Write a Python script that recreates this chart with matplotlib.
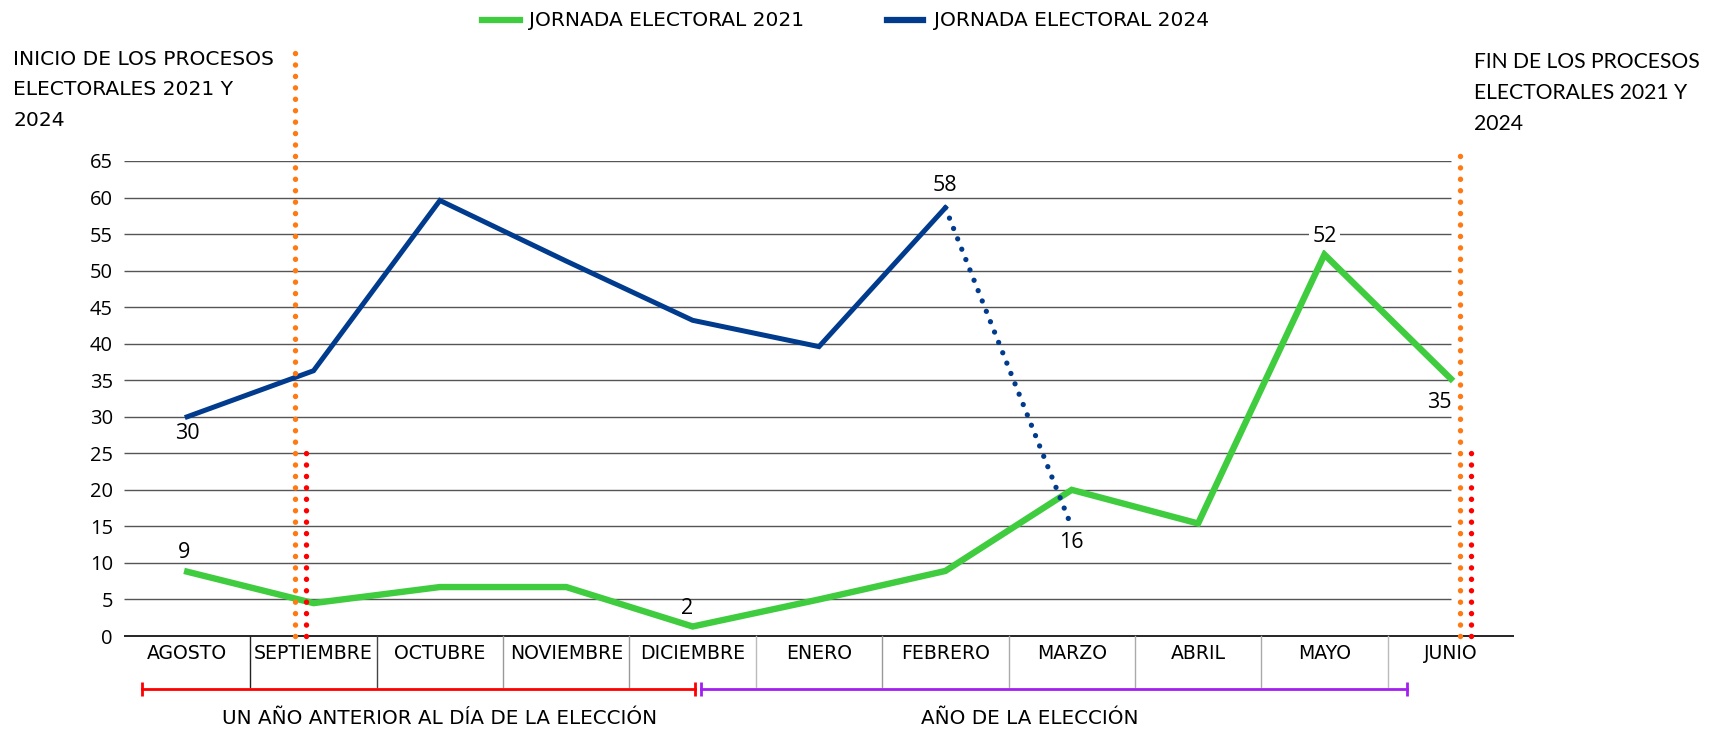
import matplotlib
matplotlib.use("Agg")
import matplotlib.pyplot as plt
import matplotlib.transforms as mtransforms

# months shown on the x axis
meses = ["AGOSTO", "SEPTIEMBRE", "OCTUBRE", "NOVIEMBRE", "DICIEMBRE", "ENERO",
         "FEBRERO", "MARZO", "ABRIL", "MAYO", "JUNIO"]

# Jornada electoral 2021 (green)
serie_2021 = [8.8, 4.5, 6.7, 6.7, 1.3, 5.0, 8.9, 20.0, 15.4, 52.2, 35.2]
# Jornada electoral 2024 (blue), solid up to febrero, dotted to marzo
serie_2024 = [30.0, 36.3, 59.6, 51.3, 43.2, 39.6, 58.6, 14.9]

# data labels: month index -> text
etiquetas_2021 = {0: "9", 4: "2", 9: "52", 10: "35"}
etiquetas_2024 = {0: "30", 6: "58", 7: "16"}

yticks = list(range(0, 70, 5))

VERDE = "#3fcc3f"
AZUL = "#003b8e"
NARANJA = "#ff7a12"
ROJO = "#ff0000"
MORADO = "#a31ff0"

plt.rcParams["font.family"] = ["Liberation Sans Narrow", "DejaVu Sans"]
NUM_FONT = ["Open Sans", "DejaVu Sans"]

fig = plt.figure(figsize=(17.17, 7.29), dpi=100)
ax = fig.add_axes([124 / 1717, 93 / 729, 1390 / 1717, 475 / 729])

x = list(range(len(meses)))
ax.set_xlim(-0.5, 10.5)
ax.set_ylim(0, 65)

# gridlines
ax.hlines(yticks[1:], -0.5, 10.0, color="#555555", lw=1, zorder=1)
ax.hlines(0, -0.5, 10.5, color="black", lw=1.2, zorder=1, clip_on=False)

# series
ax.plot(x, serie_2021, color=VERDE, lw=4.6, solid_joinstyle="miter", zorder=3)
ax.plot(x[:7], serie_2024[:7], color=AZUL, lw=3.6, solid_joinstyle="miter", zorder=3)
ax.plot(x[6:8], serie_2024[6:8], color=AZUL, lw=3.8, ls=(0, (0.01, 2.1)),
        dash_capstyle="round", zorder=3)

# vertical dotted markers for start/end of processes
punteado = dict(lw=3.9, ls=(0, (0.01, 2.1)), dash_capstyle="round",
                clip_on=False, zorder=4)
ax.plot([0.85, 0.85], [0, 80], color=NARANJA, **punteado)
ax.plot([0.94, 0.94], [0, 26], color=ROJO, **punteado)
ax.plot([10.07, 10.07], [0, 66.3], color=NARANJA, **punteado)
ax.plot([10.16, 10.16], [0, 26], color=ROJO, **punteado)

# data labels
offsets_2021 = {0: (-2, 14), 4: (-4, 13), 9: (0, 13), 10: (-8, -17)}
for i, txt in etiquetas_2021.items():
    ax.annotate(txt, (x[i], serie_2021[i]), xytext=offsets_2021[i],
                textcoords="offset points", ha="center", va="center",
                fontsize=15.5, family=NUM_FONT,
                bbox=dict(boxstyle="square,pad=0.15", fc="white", ec="none") if i == 9 else None,
                zorder=5)
offsets_2024 = {0: (0, -12), 6: (0, 16), 7: (0, -11)}
for i, txt in etiquetas_2024.items():
    ax.annotate(txt, (x[i], serie_2024[i]), xytext=offsets_2024[i],
                textcoords="offset points", ha="center", va="center",
                fontsize=15.5, family=NUM_FONT, zorder=5)

# axes styling
for s in ax.spines.values():
    s.set_visible(False)
ax.set_yticks(yticks)
ax.set_yticklabels([str(v) for v in yticks], fontsize=14.5, family=NUM_FONT)
ax.set_xticks(x)
ax.set_xticklabels(meses, fontsize=13.6)
ax.tick_params(axis="both", length=0)
ax.tick_params(axis="y", pad=8)
ax.tick_params(axis="x", pad=6)

# category separators below the axis
trans = mtransforms.blended_transform_factory(ax.transData, ax.transAxes)
sep_colors = ["#222222", "#444444", "#999999", "#999999", "#bbbbbb",
              "#999999", "#aaaaaa", "#aaaaaa", "#aaaaaa", "#bbbbbb"]
for k, c in enumerate(sep_colors):
    ax.plot([k + 0.5, k + 0.5], [0, -0.107], color=c, lw=1,
            transform=trans, clip_on=False)

# period brackets
yb = -0.112
ax.plot([-0.36, 4.02], [yb, yb], color=ROJO, lw=2, transform=trans,
        clip_on=False, marker="|", markersize=10, markeredgewidth=2)
ax.plot([4.07, 9.65], [yb, yb], color=MORADO, lw=2, transform=trans,
        clip_on=False, marker="|", markersize=10, markeredgewidth=2)
ax.text(2.0, -0.174, "UN AÑO ANTERIOR AL DÍA DE LA ELECCIÓN", transform=trans,
        ha="center", va="center", fontsize=14.3)
ax.text(6.67, -0.174, "AÑO DE LA ELECCIÓN", transform=trans,
        ha="center", va="center", fontsize=14.3)

# legend
ly = 1 - 20 / 729
fig.add_artist(plt.Line2D([482 / 1717, 520 / 1717], [ly, ly], color=VERDE, lw=4.5))
fig.text(529 / 1717, ly, "JORNADA ELECTORAL 2021", fontsize=14.5, va="center")
fig.add_artist(plt.Line2D([887 / 1717, 923 / 1717], [ly, ly], color=AZUL, lw=4.5))
fig.text(934 / 1717, ly, "JORNADA ELECTORAL 2024", fontsize=14.5, va="center")

# side notes
fig.text(13 / 1717, 1 - 50 / 729, "INICIO DE LOS PROCESOS\nELECTORALES 2021 Y\n2024",
         fontsize=14.6, va="top", ha="left", linespacing=1.75)
fig.text(1474 / 1717, 1 - 52 / 729, "FIN DE LOS PROCESOS\nELECTORALES 2021 Y\n2024",
         fontsize=15.2, va="top", ha="left", linespacing=1.68,
         family=["Lato", "DejaVu Sans"])

fig.savefig("out.png", dpi=100)
